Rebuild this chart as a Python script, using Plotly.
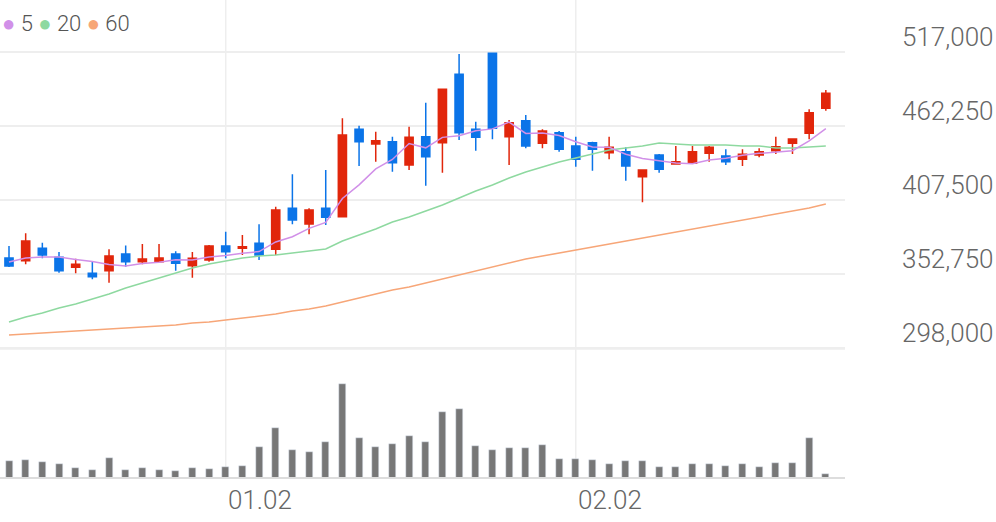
import plotly.graph_objects as go

opens  = [364600,362560,371740,365080,357680,353240,355160,367520,361820,361820,
          367520,358860,363080,373440,371740,375440,370980,401340,389720,401340,
          395120,459800,448920,450620,433380,454320,449880,500500,459800,516040,
          454320,466160,449440,457280,447440,449880,442480,443220,424720,440780,
          434120,434640,442040,440040,437600,440780,443960,449440,456840,475340]
highs  = [373400,382840,375880,369000,364040,362340,370980,373920,374920,374920,
          369520,369000,374180,384020,381580,389500,402520,426500,401340,429680,
          467940,462460,458020,454320,461720,479480,489400,515520,465420,516500,
          466680,470380,459800,458540,454320,450620,454320,446480,429680,441520,
          447440,447440,447440,445000,445000,445740,454320,453140,474600,488880]
lows   = [357900,359900,364340,353680,353240,348800,346280,358120,359900,361380,
          355160,350000,361820,364340,366780,363080,366780,389500,382100,388980,
          395000,432640,435820,428420,429680,418060,427680,451880,443960,452400,
          433380,445740,445740,443220,432120,429160,437600,421760,405780,427680,
          434120,434120,435820,433380,432640,439080,441520,441520,452400,473560]
closes = [358600,377140,366780,355160,359900,350720,366040,361820,363820,364560,
          360640,364340,373440,369220,372920,366780,400080,392680,400080,394680,
          455580,450620,451360,435080,453880,439520,489400,457280,453880,460540,
          464680,447440,458540,445000,437600,445000,446480,432640,429680,430200,
          435820,443220,446480,435820,441300,443220,446920,452620,472080,486440]
ma5_start = [361600,364560,365300,365300]
ma20 = [317200,320900,323860,327560,330520,334220,337920,342360,346060,349760,
        353460,357160,360120,362340,364560,366040,366780,368260,369740,371220,
        377140,381580,386020,391200,394900,399340,403780,408960,414140,418580,
        423760,428200,431900,435600,438560,441520,444480,445960,447440,449660,
        448920,448180,448180,448180,447440,447440,445960,445960,446700,447440]
ma60 = [307580,308320,309060,309800,310540,311280,312020,312760,313500,314240,
        314980,316460,317200,318680,320160,321640,323120,325340,326820,329040,
        332000,334960,337920,340880,343100,346060,349020,351980,354940,357900,
        360860,363820,366040,368260,370480,372700,374920,377140,379360,381580,
        383800,386020,388240,390460,392680,394900,397120,399340,401560,404520]
volume = [52,54,48,41,30,25,61,24,29,23,20,29,27,32,35,92,149,84,79,108,
          282,120,94,101,127,109,197,207,96,84,89,90,100,57,57,53,41,50,51,34,
          32,42,41,36,43,32,45,44,121,11]
price_ticks = [298000,352750,407500,462250,517000]
date_labels = {13: "01.02", 34: "02.02"}

n = len(closes)
xs = list(range(n))
ma5 = ma5_start + [sum(closes[i-4:i+1]) / 5 for i in range(4, n)]

UP, DOWN = "#e1260b", "#0b74e8"
fig = go.Figure()
fig.add_trace(go.Candlestick(x=xs, open=opens, high=highs, low=lows, close=closes,
    increasing=dict(line=dict(color=UP, width=1.5), fillcolor=UP),
    decreasing=dict(line=dict(color=DOWN, width=1.5), fillcolor=DOWN),
    whiskerwidth=0, yaxis="y", showlegend=False, hoverinfo="skip"))
for vals, col in [(ma60, "#f7a678"), (ma20, "#8ed9a0"), (ma5, "#d190e8")]:
    fig.add_trace(go.Scatter(x=xs, y=vals, mode="lines", line=dict(color=col, width=1.5),
                             yaxis="y", showlegend=False, hoverinfo="skip"))
fig.add_trace(go.Bar(x=xs, y=volume, marker_color="#777777", width=0.42,
                     yaxis="y2", showlegend=False, hoverinfo="skip"))

H = 522
W = 845
x0 = -9 / 16.67
x1 = x0 + W / 16.67
top_v = 517000 + 52 * 740
bot_v = 298000 - 2 * 740
FONT = dict(size=26, color="#666666", family="Roboto", weight=300)
ann = []
for t in price_ticks:
    ann.append(dict(x=996 / W, y=t, xref="paper", yref="y", text=f"{t:,}", showarrow=False,
                    xanchor="right", yanchor="bottom", yshift=-2, font=FONT))
for i, lab in date_labels.items():
    ann.append(dict(x=i, y=1 - 500 / H, xref="x", yref="paper", text=lab, showarrow=False,
                    xanchor="left", yanchor="middle", xshift=0, font=FONT))
ann.append(dict(x=0, y=1 - 24 / H, xref="paper", yref="paper", showarrow=False,
                xanchor="left", yanchor="middle",
                text="<span style='color:#d190e8'>●</span> 5 <span style='color:#8ed9a0'>●</span> 20 <span style='color:#f7a678'>●</span> 60",
                font=dict(size=22, color="#555555", family="Roboto", weight=300)))

shapes = []
for i in date_labels:
    shapes.append(dict(type="line", xref="x", yref="paper", x0=i, x1=i, y0=1 - 478 / H, y1=1,
                       line=dict(color="#eeeeee", width=1.5), layer="below"))
shapes.append(dict(type="line", xref="paper", yref="paper", x0=0, x1=1, y0=1 - 478 / H, y1=1 - 478 / H,
                   line=dict(color="#dddddd", width=2)))
shapes.append(dict(type="line", xref="paper", yref="paper", x0=0, x1=1, y0=1 - 349 / H, y1=1 - 349 / H,
                   line=dict(color="#eeeeee", width=1.5)))

fig.update_layout(
    width=996, height=H, margin=dict(l=0, r=996 - W, t=0, b=0),
    paper_bgcolor="white", plot_bgcolor="white",
    xaxis=dict(range=[x0, x1], showgrid=False, showticklabels=False, zeroline=False,
               rangeslider=dict(visible=False), fixedrange=True),
    yaxis=dict(domain=[1 - 350 / H, 1], range=[bot_v, top_v], tickvals=price_ticks,
               showticklabels=False, gridcolor="#eeeeee", gridwidth=1.5, zeroline=False),
    yaxis2=dict(domain=[1 - 478 / H, 1 - 355 / H], range=[0, 282 * 123 / 94],
                showgrid=False, showticklabels=False, zeroline=False),
    annotations=ann, shapes=shapes, bargap=0,
)
fig.write_html("out.html", config={"displayModeBar": False},
               post_script="document.body.style.margin='0';document.body.style.overflow='hidden';")
